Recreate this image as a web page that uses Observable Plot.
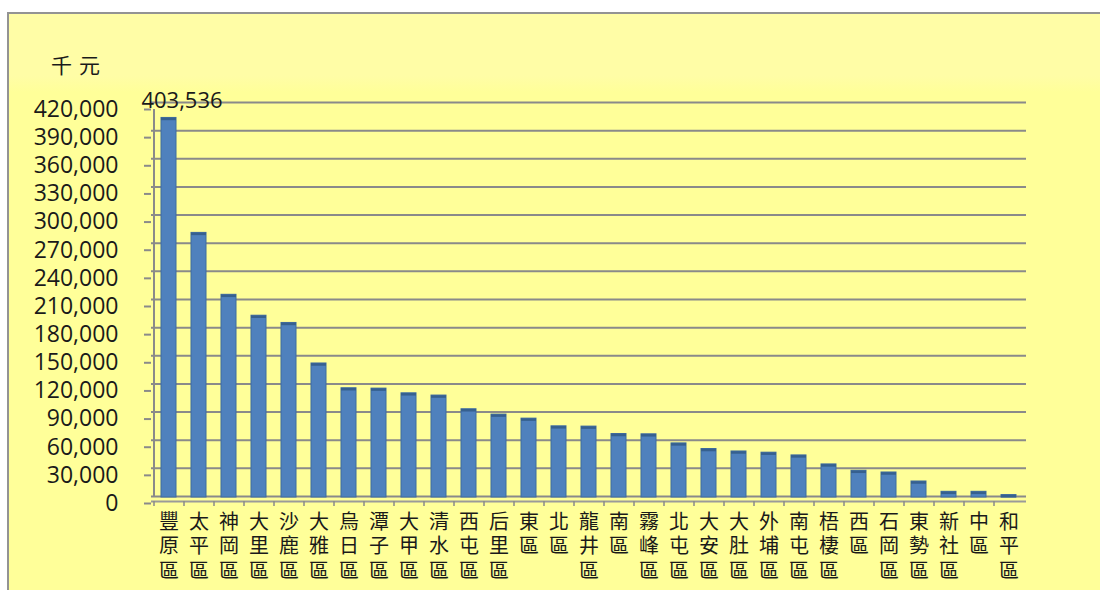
<!DOCTYPE html>
<html>
<head>
<meta charset="utf-8">
<script src="https://cdn.jsdelivr.net/npm/d3@7"></script>
<script src="https://cdn.jsdelivr.net/npm/@observablehq/plot@0.6"></script>
<style>
  body { margin: 0; background: #ffffff; }
  #wrap { position: relative; width: 1100px; height: 590px; overflow: hidden; }
  #frame { position: absolute; left: 7px; top: 12px; width: 1200px; height: 700px;
    border: 2px solid #939393;
    background: linear-gradient(#fffda6 0px, #fffda6 62px, #ffff99 78px, #ffff99 100%); }
  #unit { position: absolute; left: 51px; top: 53px; font-family: "Noto Sans CJK TC"; font-size: 21px;
    line-height: 22px; letter-spacing: 7px; color: #1a1a1a; }
  #chart { position: absolute; left: 0; top: 0; }
</style>
</head>
<body>
<div id="wrap">
  <div id="frame"></div>
  <div id="unit">千元</div>
  <div id="chart"></div>
</div>
<script>
const districts = ["豐原區","太平區","神岡區","大里區","沙鹿區","大雅區","烏日區","潭子區","大甲區","清水區",
  "西屯區","后里區","東區","北區","龍井區","南區","霧峰區","北屯區","大安區","大肚區",
  "外埔區","南屯區","梧棲區","西區","石岡區","東勢區","新社區","中區","和平區"];
const values = [403536, 281000, 215000, 192700, 185000, 141800, 115400, 115000, 110000, 107600,
  93000, 87300, 83000, 74800, 74500, 66600, 66300, 56600, 50600, 48000,
  46700, 43800, 34200, 27400, 25600, 16000, 5000, 5000, 1500];
const yTicks = [0, 30000, 60000, 90000, 120000, 150000, 180000, 210000, 240000, 270000, 300000, 330000, 360000, 390000, 420000];
const labelled = [{district: "豐原區", value: 403536}];

const data = districts.map((d, i) => ({district: d, value: values[i]}));
const fmt = d3.format(",");

// one text mark per character row, so each glyph is its own text
const rowMarks = [0, 1, 2].map(r => Plot.text(districts.filter(d => d.length > r), {
  x: d => d, text: d => d[r], frameAnchor: "bottom", dy: 32 + r * 24.5,
  fontSize: 20, fontFamily: "Noto Sans CJK TC", fill: "#1a1a1a"
}));

const chart = Plot.plot({
  width: 1100,
  height: 590,
  marginLeft: 151,
  marginRight: 74,
  marginTop: 102,
  marginBottom: 94,
  style: {background: "transparent", color: "#1a1a1a", overflow: "visible"},
  x: {domain: districts, paddingInner: 0.5, paddingOuter: 0.25, axis: null},
  y: {domain: [0, 420000], axis: null},
  marks: [
    Plot.ruleY(yTicks, {stroke: "#8a8a8a", strokeWidth: 2}),
    Plot.ruleY([0], {stroke: "#9a9a9a", strokeWidth: 2, dy: 5}),
    Plot.ruleX([districts[0]], {dx: -15, y1: 0, y2: 420000, stroke: "#8a8a8a", strokeWidth: 2, insetBottom: -7}),
    Plot.ruleX(districts, {x: d => d, dx: -15, y1: 0, y2: 0, insetTop: 5, insetBottom: -10, stroke: "#8a8a8a", strokeWidth: 1.5}),
    Plot.barY(data, {x: "district", y: "value", fill: "#4f81bd", stroke: "#3f6c9f", strokeWidth: 1, insetBottom: -1}),
    Plot.tickY(data, {x: "district", y: "value", stroke: "#36608f", strokeWidth: 2.5, dy: 1}),
    Plot.text(labelled, {x: "district", y: "value", text: d => fmt(d.value), dx: 13, dy: -10,
      lineAnchor: "bottom", fontSize: 22, fontFamily: "Open Sans", fill: "#1a1a1a"}),
    Plot.axisY({ticks: yTicks, tickSize: 7, tickPadding: 26, tickFormat: fmt, fontSize: 23, dy: 7,
      fontFamily: "Open Sans", stroke: "#8a8a8a", strokeWidth: 2, label: null}),
    ...rowMarks
  ]
});
document.getElementById("chart").append(chart);
</script>
</body>
</html>
